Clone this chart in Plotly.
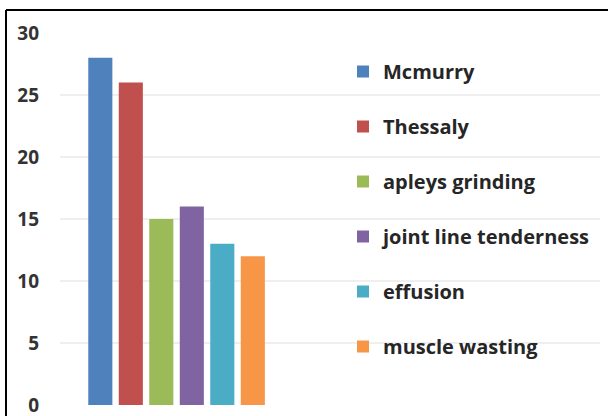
import plotly.graph_objects as go

series_names = ["Mcmurry", "Thessaly", "apleys grinding", "joint line tenderness", "effusion", "muscle wasting"]
series_values = [28, 26, 15, 16, 13, 12]
series_colors = ["#4F81BD", "#C0504D", "#9BBB59", "#8064A2", "#4BACC6", "#F79646"]
y_ticks = [0, 5, 10, 15, 20, 25, 30]

W, H = 608, 416
ml, mr, mt, mb = 60, 8, 33, 11
pw, ph = W - ml - mr, H - mt - mb

fig = go.Figure()
for i, (n, v, c) in enumerate(zip(series_names, series_values, series_colors)):
    fig.add_trace(go.Bar(x=[0], y=[v], name=n, marker_color=c, marker_line_width=0,
                         legendgroup=n))

def px_x(p):
    return (p - ml) / pw

def px_y(p):
    return (H - mb - p) / ph

fig.update_layout(
    width=W, height=H,
    margin=dict(l=ml, r=mr, t=mt, b=mb),
    paper_bgcolor="white", plot_bgcolor="white",
    barmode="group", bargap=0.0, bargroupgap=0.21,
    font=dict(family="Open Sans", size=15, color="#262626"),
    xaxis=dict(range=[-0.637, 2.314], showticklabels=False, showgrid=False,
               zeroline=False, showline=False, ticks="", automargin=False),
    yaxis=dict(range=[0, 30], tickvals=y_ticks, showgrid=True, gridcolor="#EFEFEF",
               gridwidth=1.5, zeroline=False, showline=False, ticks="",
               ticklabelstandoff=20, ticklabeloverflow="allow", automargin=False,
               tickfont=dict(family="Open Sans", size=19, color="#333333", weight="bold")),
    legend=dict(x=px_x(343), y=px_y(52), xanchor="left", yanchor="top",
                font=dict(family="Open Sans", size=20, color="#262626", weight="bold"),
                tracegroupgap=26, itemwidth=30, bgcolor="rgba(0,0,0,0)",
                traceorder="grouped"),
    showlegend=True,
    shapes=[
        dict(type="line", xref="paper", yref="paper", x0=px_x(6), x1=px_x(6),
             y0=px_y(10), y1=px_y(H + 5), line=dict(color="black", width=2)),
        dict(type="line", xref="paper", yref="paper", x0=px_x(6), x1=px_x(W + 5),
             y0=px_y(10), y1=px_y(10), line=dict(color="black", width=2)),
    ],
)

fig.write_html("out.html", config={"displayModeBar": False},
               post_script="document.body.style.margin='0';")
